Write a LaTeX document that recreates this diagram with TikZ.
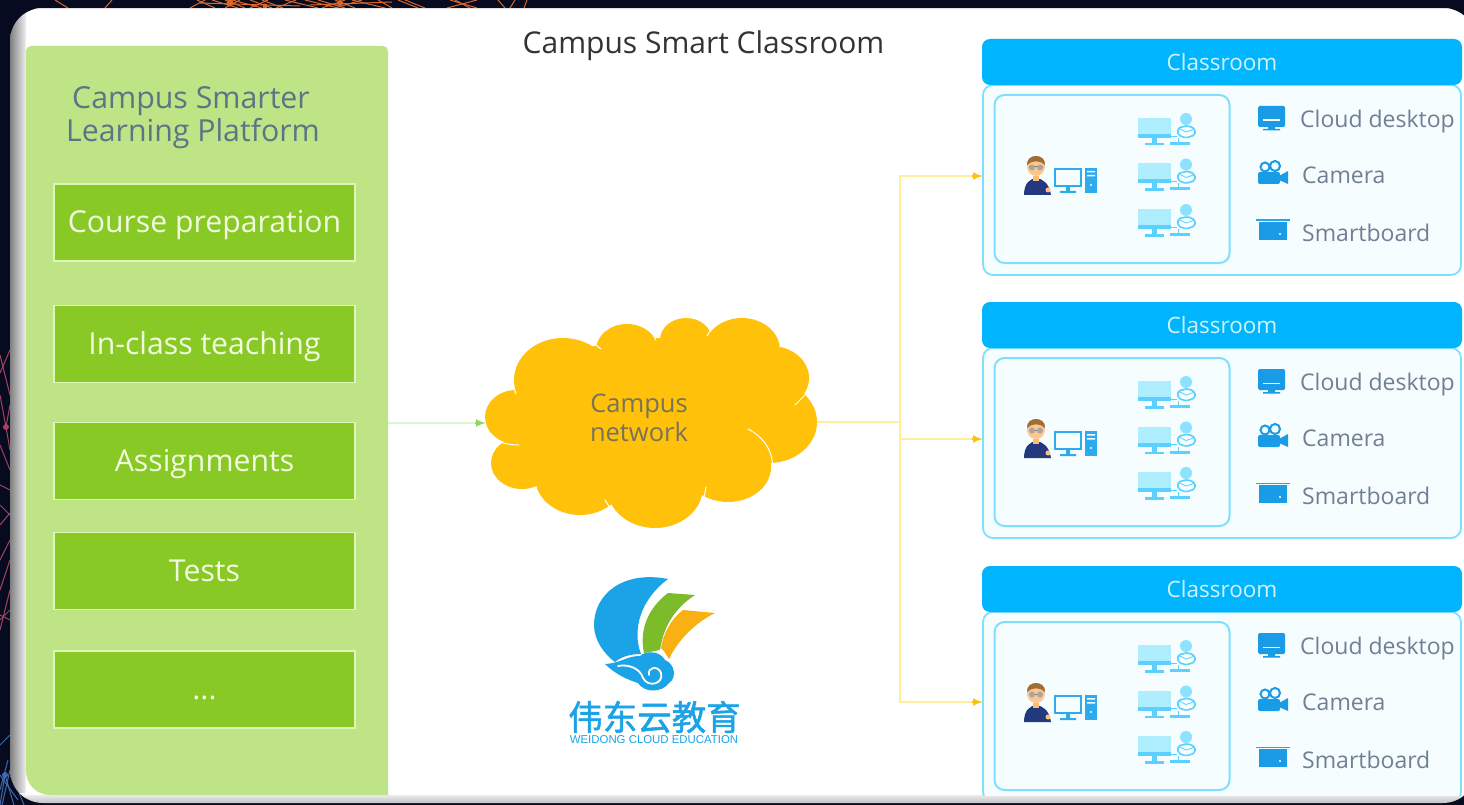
\documentclass[tikz,border=0pt]{standalone}
\usepackage{fontspec}
\setmainfont{Open Sans}
\newfontfamily\cjkfont[FakeBold=1.5]{Noto Sans CJK SC}
\newfontfamily\logofont{Liberation Sans}
\usetikzlibrary{arrows.meta,calc}
\definecolor{bgdark}{HTML}{070B20}
\definecolor{netorange}{HTML}{D9682A}
\definecolor{netred}{HTML}{A8405F}
\definecolor{netblue}{HTML}{3F68AE}
\definecolor{platgreen}{HTML}{BEE485}
\definecolor{btngreen}{HTML}{88C926}
\definecolor{btnedge}{HTML}{DDF5B5}
\definecolor{btntext}{HTML}{F2FBE0}
\definecolor{slatetext}{HTML}{5C7488}
\definecolor{cloudamber}{HTML}{FFC10A}
\definecolor{cloudtext}{HTML}{77735A}
\definecolor{roomhead}{HTML}{00B5FD}
\definecolor{roomedge}{HTML}{80DFFF}
\definecolor{roomfill}{HTML}{F5FDFF}
\definecolor{headtext}{HTML}{CFF4FF}
\definecolor{icontext}{HTML}{717F94}
\definecolor{iconblue}{HTML}{1A9BE6}
\definecolor{screenblue}{HTML}{AEEEFF}
\definecolor{barblue}{HTML}{5CD0FF}
\definecolor{linegood}{HTML}{FFEE9E}
\definecolor{linegreen}{HTML}{DDF7CC}
\definecolor{arrowgreen}{HTML}{8FD860}
\definecolor{logoblue}{HTML}{1BA3E8}
\definecolor{logogreen}{HTML}{7CBB2A}
\definecolor{logoorange}{HTML}{F8B012}
\definecolor{teachernavy}{HTML}{22397F}
\tikzset{
  btnbox/.style={rectangle,draw=btnedge,fill=btngreen,line width=1.8pt,minimum width=301pt,minimum height=77pt,inner sep=0pt,text=btntext,text height=20pt,text depth=0pt,font=\fontsize{30.2}{34}\selectfont},
  roomhdr/.style={rectangle,rounded corners=8pt,fill=roomhead,minimum width=480pt,minimum height=46pt,inner sep=0pt,text=headtext,font=\fontsize{22.5}{26}\selectfont},
  roombody/.style={rectangle,rounded corners=10pt,draw=roomedge,fill=roomfill,line width=1.8pt,minimum width=478pt,minimum height=190pt,inner sep=0pt},
  innerbox/.style={rectangle,rounded corners=10pt,draw=roomedge,fill=roomfill,line width=2pt,minimum width=235pt,minimum height=168pt,inner sep=0pt},
  itemtext/.style={anchor=west,inner sep=0pt,text=icontext,font=\fontsize{23}{26}\selectfont},
  feedline/.style={line width=1.2pt,linegood},
  feedtip/.style={line width=1.2pt,cloudamber,-{Latex[length=9pt,width=8pt]}},
  upline/.style={line width=1.2pt,linegreen},
  uptip/.style={line width=1.2pt,arrowgreen,-{Latex[length=9pt,width=8pt]}},
  creaseline/.style={white,line width=1pt,line cap=round},
  netO/.style={netorange,line width=1pt},
  netR/.style={netred,line width=1pt},
  netB/.style={netblue,line width=1pt}
}
\newcommand{\studentpc}[1]{%
  \begin{scope}[yshift=-#1pt]
    \fill[screenblue] (1138,118) rectangle (1171,134);
    \fill[barblue] (1138,134) rectangle (1171,138);
    \fill[barblue] (1152,138) rectangle (1157,143);
    \fill[barblue] (1145,143) rectangle (1164,145.5);
    \fill[barblue] (1170,142) rectangle (1190,145);
    \draw[barblue,line width=.8pt] (1171,136) -- (1178,136) -- (1178,142);
    \fill[screenblue!60!barblue] (1186,119) circle [radius=6pt];
    \fill[roomfill] (1177,127) rectangle (1195,138);
    \draw[barblue,line width=1.6pt,rounded corners=2pt] (1178,128) -- (1188,125.5) -- (1195,129) -- (1195,135) -- (1186,138) -- (1178,135) -- cycle;
    \draw[barblue,line width=.8pt] (1178,128) -- (1186,132) -- (1195,129);
  \end{scope}}
\begin{document}
\begin{tikzpicture}[x=1pt,y=-1pt]
\useasboundingbox (0,0) rectangle (1464,805);
% dark backdrop
\fill[bgdark] (0,0) rectangle (1464,805);
\foreach \a/\b/\c in {55/68/0,112/105/8,197/215/8,205/190/8,212/238/0,225/245/8,232/262/8,240/225/8,250/272/0,262/283/8,268/250/8,285/318/0,296/276/8,305/338/8,318/345/0,335/355/8,345/322/8,352/385/8,362/335/0,378/392/8,398/418/0,405/425/8,450/477/0,455/470/8,477/447/0,498/505/8,515/510/8,527/524/8}{
  \draw[netO] (\a,0) -- (\b,8);
}
\fill[netorange] (230,3) circle [radius=3.5pt] (265,6) circle [radius=2.5pt] (340,3) circle [radius=3pt];
\draw[netO] (200,3) -- (300,6) (310,5) -- (392,2);
\foreach \p/\q/\r/\s in {0/373/10/350,0/355/10/395,6/427/0/395,6/427/10/405,6/427/10/450,0/445/10/470,0/485/10/490,0/505/10/515,0/525/10/513,0/560/10/540,0/590/10/560,0/620/10/610,0/630/10/590,0/615/10/620}{
  \draw[netR] (\p,\q) -- (\r,\s);
}
\fill[netred] (6,427) circle [radius=3pt];
\foreach \p/\q/\r/\s in {0/745/10/735,0/790/8/760,5/775/0/805,5/775/14/805,0/775/18/800,10/770/24/805,2/805/10/770}{
  \draw[netB] (\p,\q) -- (\r,\s);
}
\fill[netblue] (5,775) circle [radius=3pt];
% device frame
\begin{scope}
  \clip[rounded corners=33pt] (10,8) rectangle (1476,803);
  \shade[left color=black!50,right color=black!6] (10,0) -- (26,0) -- (26,805) -- (10,805) -- cycle;
  \shade[top color=black!4,bottom color=black!28] (10,793) rectangle (1476,805);
  \fill[white] (26,8) rectangle (1476,795);
  \fill[black!12] (26,8) rectangle (1476,9);
\end{scope}
% platform panel
\fill[platgreen] [rounded corners=5pt] (26,100) -- (26,46) -- (388,46) -- (388,100) [sharp corners] -- (388,795) [rounded corners=24pt] -- (26,795) -- (26,600) -- cycle;
\node[rectangle,minimum width=362pt,minimum height=749pt,inner sep=0pt] (platform) at (207,420.5) {};
\node[inner sep=0pt,text=slatetext,font=\fontsize{30.3}{34}\selectfont] (plat1) at (191,101) {Campus Smarter};
\node[inner sep=0pt,text=slatetext,font=\fontsize{30.3}{34}\selectfont] (plat2) at (193,134) {Learning Platform};
\node[btnbox] (b1) at (204.5,222.5) {Course preparation};
\node[btnbox] (b2) at (204.5,344) {In-class teaching};
\node[btnbox] (b3) at (204.5,461) {Assignments};
\node[btnbox] (b4) at (204.5,571) {Tests};
\node[btnbox] (b5) at (204.5,689.5) {...};
\node[inner sep=0pt,text=black!80,font=\fontsize{30}{34}\selectfont] (title) at (703.5,46) {Campus Smart Classroom};
% cloud
\fill[cloudamber]
  (563,380) ellipse [x radius=49pt,y radius=42pt]
  (627,350) ellipse [x radius=31pt,y radius=26pt]
  (686,340) ellipse [x radius=26pt,y radius=22pt]
  (742,350) ellipse [x radius=38pt,y radius=32pt]
  (771,378) ellipse [x radius=38pt,y radius=32pt]
  (769,422) ellipse [x radius=48pt,y radius=41pt]
  (728,467) ellipse [x radius=43pt,y radius=35pt]
  (655,487) ellipse [x radius=48pt,y radius=41pt]
  (580,477) ellipse [x radius=45pt,y radius=38pt]
  (522,463) ellipse [x radius=31pt,y radius=26pt]
  (516,417) ellipse [x radius=31pt,y radius=27pt]
  (650,420) ellipse [x radius=130pt,y radius=82pt];
\draw[creaseline] (748,429) .. controls (762,436) and (771,448) .. (772.5,463);
\draw[creaseline] (500.5,442) .. controls (506,444) and (512,445) .. (519,445);
\draw[creaseline] (593,343) -- (601,349);
\draw[creaseline] (655,340) -- (657,333);
\draw[creaseline] (707,336) -- (712,328);
\draw[creaseline] (795,405) -- (807,393);
\draw[creaseline] (706,487) -- (704,498);
\draw[creaseline] (605,500) -- (610,508);
\draw[creaseline] (530,489) -- (537,487);
\draw[creaseline] (514,388) -- (516,394);
\draw[creaseline] (780,347) -- (781,344);
\node[align=center,inner sep=0pt,text=cloudtext,font=\fontsize{25.5}{29.5}\selectfont] (cloudnet) at (639,418) {Campus\\network};
\coordinate (cloudW) at (485,423);
\coordinate (cloudE) at (817,422);
\coordinate (branch) at (900,422);
% classrooms
\begin{scope}
\clip (975,0) rectangle (1464,795);
\foreach \r/\dy in {1/0,2/263,3/527}{
\begin{scope}[yshift=-\dy pt]
  \node[roombody] (room\r) at (1222,180) {};
  \node[roomhdr] (hdr\r) at (1222,62) {Classroom};
  \node[innerbox] (inner\r) at (1112,179) {};
  % teacher
  \fill[teachernavy] (1024,195) .. controls (1024,183) and (1030,179) .. (1036,178) .. controls (1043,179) and (1049,183) .. (1051,195) -- cycle;
  \fill[orange!55!white] (1033,176) rectangle (1039,181);
  \fill[orange!45!white] (1036,166) ellipse [x radius=9pt,y radius=10pt];
  \fill[brown!85!black] (1027,165) .. controls (1026,153) and (1046,153) .. (1045,165) .. controls (1040,160) and (1032,160) .. (1027,165) -- cycle;
  \draw[gray,line width=1pt] (1029,167) -- (1043,167);
  \fill[gray!70] (1032,167.5) circle [radius=3pt] (1040,167.5) circle [radius=3pt];
  \fill[orange!50!white] (1048,190) circle [radius=2.5pt];
  \draw[iconblue!70!barblue,line width=1.6pt] (1055,169) rectangle (1081,186);
  \fill[iconblue!70!barblue] (1066,187) rectangle (1070,191) (1060,191) rectangle (1076,193);
  \fill[iconblue!70!barblue] (1085,168) rectangle (1097,193);
  \fill[roomfill] (1087,171) rectangle (1095,172.5) (1087,175) rectangle (1095,176.5);
  \fill[roomfill] (1091,185) circle [radius=1.2pt];
  % students
  \studentpc{0}\studentpc{45.5}\studentpc{91}
  % cloud desktop icon
  \fill[iconblue,rounded corners=1.5pt] (1258,106) rectangle (1285,127);
  \fill[white] (1263,119.5) rectangle (1280,120.7);
  \fill[iconblue] (1268,127) rectangle (1275,129) (1263,129) rectangle (1280,130.5);
  \node[itemtext] (desk\r) at (1300,122) {Cloud desktop};
  % camera icon
  \fill[iconblue,rounded corners=2pt] (1258,172) rectangle (1280,184);
  \fill[iconblue] (1279,176) -- (1288,171) -- (1288,184) -- (1279,180) -- cycle;
  \draw[iconblue,line width=2pt,fill=roomfill] (1265,167) circle [radius=4.5pt] (1275,166) circle [radius=5pt];
  \node[itemtext] (cam\r) at (1302,175.5) {Camera};
  % smartboard icon
  \fill[iconblue!80!barblue] (1256,219.5) rectangle (1290,221);
  \fill[iconblue] (1259,222) rectangle (1287,240);
  \fill[white] (1280,234) circle [radius=1.2pt];
  \node[itemtext] (board\r) at (1302,233) {Smartboard};
\end{scope}
}
\end{scope}
% connectors
\coordinate (in1) at (982,176);
\coordinate (in2) at (982,439);
\coordinate (in3) at (982,702);
\draw[upline] (platform.east |- cloudW) -- (cloudW);
\draw[uptip] ($(cloudW)+(-10,0)$) -- (cloudW);
\draw[feedline] (cloudE) -- (branch);
\foreach \t in {in1,in2,in3}{
  \draw[feedline] (branch) |- (\t);
  \draw[feedtip] ($(\t)+(-10,0)$) -- (\t);
}
% logo
\fill[logoblue] (668,579) .. controls (622,570) and (594,595) .. (594,625) .. controls (594,640) and (604,654) .. (615,662) .. controls (622,656) and (632,654) .. (641,654) .. controls (632,630) and (640,600) .. (668,579) -- cycle;
\fill[logogreen] (668,593) -- (695,595) .. controls (672,610) and (663,630) .. (660,650) -- (644,653) .. controls (639,630) and (648,608) .. (668,593) -- cycle;
\fill[logoorange] (683,610) -- (715,613) .. controls (695,623) and (678,640) .. (669,659) .. controls (666,654) and (664,651) .. (661,648) .. controls (663,635) and (670,620) .. (683,610) -- cycle;
\fill[logoblue] (605,664) .. controls (622,663) and (626,656) .. (640,656) .. controls (646,650) and (660,651) .. (665,660) .. controls (675,664) and (677,678) .. (669,683) .. controls (662,693) and (644,693) .. (638,683) .. controls (628,680) and (615,674) .. (605,664) -- cycle;
\draw[white,line width=1.8pt,line cap=round] (618,666) .. controls (628,664) and (640,668) .. (643,678) .. controls (648,688) and (664,684) .. (661,673) .. controls (658,665) and (647,667) .. (649,675);
\node[inner sep=0pt,text=logoblue,font=\cjkfont\fontsize{34.5}{38}\selectfont] (logocn) at (654.5,717) {伟东云教育};
\node[inner sep=0pt,text=logoblue,font=\logofont\fontsize{11.4}{12}\selectfont] (logoen) at (654,740) {WEIDONG CLOUD EDUCATION};
\end{tikzpicture}
\end{document}
